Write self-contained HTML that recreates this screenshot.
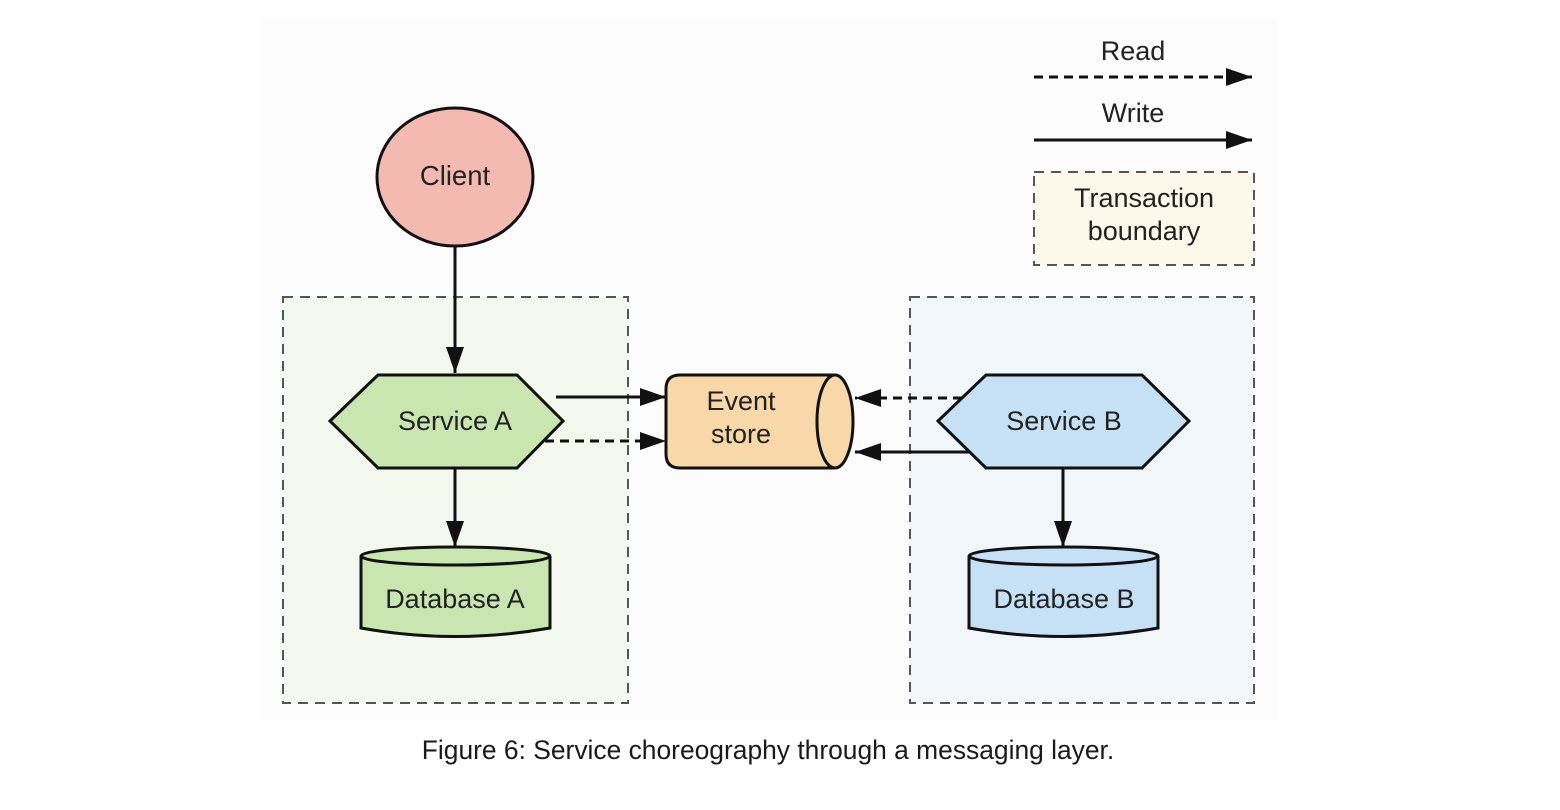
<!DOCTYPE html>
<html><head><meta charset="utf-8"><style>
html,body{margin:0;padding:0;background:#fff;}
svg{display:block;}
text{font-family:"Liberation Sans",Arial,sans-serif;fill:#222;}
</style></head><body>
<svg width="1560" height="810" viewBox="0 0 1560 810" xmlns="http://www.w3.org/2000/svg">
<defs>
<marker id="ahb" markerWidth="26" markerHeight="18" refX="26" refY="9" orient="auto" markerUnits="userSpaceOnUse" viewBox="0 0 26 18">
<path d="M0,0 L26,9 L0,18 z" fill="#111"/></marker>
</defs>
<rect x="262" y="18" width="1016" height="702" fill="#fcfcfc"/>
<rect x="283" y="297" width="345" height="406" fill="#f2f8ee" stroke="#555" stroke-width="2" stroke-dasharray="10,7"/>
<rect x="910" y="297" width="344" height="406" fill="#f1f6fb" stroke="#555" stroke-width="2" stroke-dasharray="10,7"/>
<text x="1133" y="60" font-size="27" text-anchor="middle">Read</text>
<line x1="1034" y1="77" x2="1252" y2="77" stroke="#111" stroke-width="3" stroke-dasharray="9,6" marker-end="url(#ahb)"/>
<text x="1133" y="122" font-size="27" text-anchor="middle">Write</text>
<line x1="1034" y1="140" x2="1252" y2="140" stroke="#111" stroke-width="3" marker-end="url(#ahb)"/>
<rect x="1034" y="172" width="220" height="93" fill="#fcf9ea" stroke="#555" stroke-width="2" stroke-dasharray="10,7"/>
<text x="1144" y="207" font-size="27" text-anchor="middle">Transaction</text>
<text x="1144" y="240" font-size="27" text-anchor="middle">boundary</text>
<ellipse cx="455" cy="177" rx="78" ry="69" fill="#f4b9b0" stroke="#111" stroke-width="3"/>
<text x="455" y="185" font-size="27.5" text-anchor="middle">Client</text>
<line x1="455" y1="247" x2="455" y2="373" stroke="#111" stroke-width="3" marker-end="url(#ahb)"/>
<polygon points="330,421 378,375 517,375 563,421 517,468 378,468" fill="#c9e5b0" stroke="#111" stroke-width="3"/>
<text x="455" y="430" font-size="27" text-anchor="middle">Service A</text>
<line x1="556" y1="397" x2="666" y2="397" stroke="#111" stroke-width="3" marker-end="url(#ahb)"/>
<line x1="545" y1="441" x2="666" y2="441" stroke="#111" stroke-width="3" stroke-dasharray="9,6" marker-end="url(#ahb)"/>
<line x1="455" y1="468" x2="455" y2="547" stroke="#111" stroke-width="3" marker-end="url(#ahb)"/>
<path d="M361,556 L361,628 Q455,645 550,628 L550,556" fill="#c9e5b0" stroke="#111" stroke-width="3"/>
<ellipse cx="455.5" cy="556" rx="94.5" ry="9" fill="#c9e5b0" stroke="#111" stroke-width="3"/>
<text x="455" y="608" font-size="27" text-anchor="middle">Database A</text>
<path d="M835,375 L680,375 Q666,375 666,389 L666,454 Q666,468 680,468 L835,468" fill="#f8d7a8" stroke="#111" stroke-width="3"/>
<ellipse cx="835" cy="421.5" rx="18" ry="46.5" fill="#f8d7a8" stroke="#111" stroke-width="3"/>
<text x="741" y="410" font-size="27" text-anchor="middle">Event</text>
<text x="741" y="443" font-size="27" text-anchor="middle">store</text>
<polygon points="938,421 986,375 1142,375 1189,421 1142,468 986,468" fill="#c6e0f5" stroke="#111" stroke-width="3"/>
<text x="1064" y="430" font-size="27" text-anchor="middle">Service B</text>
<line x1="962" y1="398" x2="855" y2="398" stroke="#111" stroke-width="3" stroke-dasharray="9,6" marker-end="url(#ahb)"/>
<line x1="970" y1="452" x2="855" y2="452" stroke="#111" stroke-width="3" marker-end="url(#ahb)"/>
<line x1="1063" y1="468" x2="1063" y2="547" stroke="#111" stroke-width="3" marker-end="url(#ahb)"/>
<path d="M969,556 L969,628 Q1063,645 1158,628 L1158,556" fill="#c6e0f5" stroke="#111" stroke-width="3"/>
<ellipse cx="1063.5" cy="556" rx="94.5" ry="9" fill="#c6e0f5" stroke="#111" stroke-width="3"/>
<text x="1064" y="608" font-size="27" text-anchor="middle">Database B</text>
<text x="768" y="759" font-size="26.4" text-anchor="middle" style="fill:#1a1a1a">Figure 6: Service choreography through a messaging layer.</text>
</svg>
</body></html>
